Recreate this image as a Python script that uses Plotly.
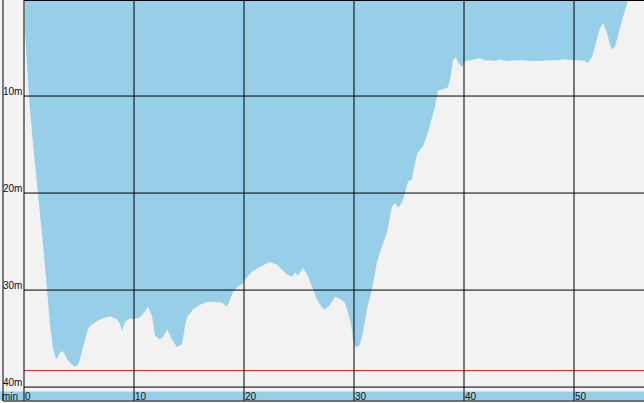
import plotly.graph_objects as go

# ---- data ----
time_min = [0.0, 0.09, 0.09, 0.45, 0.82, 1.27, 1.73, 2.09, 2.36, 2.64, 2.91, 3.09, 3.27, 3.55, 3.91,
            4.27, 4.64, 4.91, 5.09, 5.36, 5.55, 5.82, 6.0, 6.64, 7.18, 7.82, 8.45, 8.73, 8.91, 9.18,
            9.64, 9.91, 10.55, 11.0, 11.27, 11.64, 11.91, 12.36, 12.73, 13.0, 13.45, 13.91, 14.18,
            14.36, 14.64, 14.82, 15.36, 16.0, 16.64, 17.18, 18.0, 18.45, 18.73, 19.0, 19.45, 19.82,
            20.09, 20.73, 21.45, 22.36, 23.0, 23.45, 23.91, 24.36, 24.64, 24.91, 25.36, 25.82, 26.18,
            26.64, 27.09, 27.36, 27.82, 28.27, 28.73, 29.18, 29.45, 29.73, 29.91, 30.09, 30.27, 30.55,
            30.82, 31.18, 31.64, 32.09, 32.55, 33.0, 33.45, 33.73, 34.0, 34.36, 34.64, 34.91, 35.27,
            35.36, 35.73, 36.0, 36.27, 36.73, 37.09, 37.36, 37.64, 38.09, 38.55, 38.73, 38.91, 39.0,
            39.27, 39.45, 39.82, 40.09, 40.55, 41.0, 41.45, 41.91, 42.36, 42.82, 43.27, 43.91, 44.64,
            45.36, 46.0, 46.91, 47.64, 48.45, 49.18, 49.91, 50.55, 51.0, 51.27, 51.64, 52.09, 52.36,
            52.64, 53.0, 53.27, 53.45, 53.73, 54.18, 54.64, 54.91, 55.09]
depth_m = [0.0, 0.3, 3.2, 10.1, 15.0, 19.9, 25.3, 29.9, 33.5, 36.1, 37.1, 36.9, 36.4, 36.3, 37.1,
           37.6, 37.9, 37.7, 37.1, 35.9, 35.1, 34.0, 33.7, 33.2, 32.9, 32.7, 33.0, 33.5, 34.2, 33.3,
           32.9, 33.0, 32.8, 32.2, 31.7, 32.7, 34.7, 35.1, 34.7, 34.0, 35.1, 35.9, 35.7,
           35.6, 33.7, 32.8, 32.0, 31.5, 31.2, 31.2, 31.3, 31.7, 31.0, 30.2, 29.6, 29.4,
           28.9, 28.1, 27.6, 27.1, 27.4, 27.9, 28.4, 28.6, 28.2, 28.5, 27.7, 28.6, 29.7,
           31.0, 31.8, 32.0, 31.5, 30.7, 30.9, 31.3, 32.3, 33.5, 35.1, 35.8, 35.9, 35.6,
           34.3, 32.0, 29.9, 27.1, 25.5, 24.1, 21.4, 21.0, 21.5, 21.0, 20.0, 18.8, 18.6,
           17.9, 16.0, 15.5, 15.2, 13.7, 12.2, 11.1, 9.4, 9.3, 9.1, 8.3, 7.0, 6.3,
           6.0, 6.5, 7.0, 6.4, 6.3, 6.2, 6.1, 6.3, 6.3, 6.4, 6.2, 6.4, 6.3,
           6.3, 6.4, 6.4, 6.3, 6.3, 6.2, 6.3, 6.3, 6.4, 6.6, 6.0, 4.0, 3.0,
           2.5, 3.5, 4.7, 5.2, 4.9, 2.9, 1.1, 0.1, 0.0]

minute_ticks = [0, 10, 20, 30, 40, 50]
depth_ticks = [10, 20, 30, 40]
depth_tick_labels = ["10m", "20m", "30m", "40m"]
limit_depth = 38.3

# ---- styling / layout ----
W, H = 644, 403
ML, MB = 24, 13
PW, PH = W - ML, H - MB
X_MAX = PW / 11.0          # 11 px per minute
Y_TOP, Y_BOT = 0.1, 40.3

BG = "#f2f2f2"
BLUE = "#97cfe8"
FONT = "Liberation Sans, Arial, sans-serif"

def px_x(px):   # pixel x -> paper
    return (px - ML) / PW

def px_y(py):   # pixel y (from top) -> paper
    return 1 - py / PH

fig = go.Figure()
fig.add_trace(go.Scatter(x=time_min, y=depth_m, mode="lines", fill="tozeroy",
                         line=dict(width=0, color=BLUE), fillcolor=BLUE,
                         hoverinfo="skip", showlegend=False))

shapes = []
# bottom time strip
shapes.append(dict(type="rect", xref="paper", yref="paper", x0=px_x(0), x1=1,
                   y0=px_y(400.5), y1=px_y(391.5), fillcolor=BLUE, line=dict(width=0),
                   layer="below"))
# horizontal grid lines
for d in depth_ticks:
    shapes.append(dict(type="line", xref="paper", yref="y", x0=0, x1=1, y0=d, y1=d,
                       line=dict(color="#000000", width=1)))
# limit line
shapes.append(dict(type="line", xref="paper", yref="y", x0=0, x1=1, y0=limit_depth, y1=limit_depth,
                   line=dict(color="#cc2020", width=1)))
# vertical grid lines
for m in minute_ticks:
    xp = m / X_MAX
    shapes.append(dict(type="line", xref="paper", yref="paper", x0=xp, x1=xp,
                       y0=px_y(401), y1=1, line=dict(color="#000000", width=1)))
# frame
shapes.append(dict(type="line", xref="paper", yref="paper", x0=0, x1=1, y0=px_y(0.5), y1=px_y(0.5),
                   line=dict(color="#000000", width=1)))
shapes.append(dict(type="line", xref="paper", yref="paper", x0=px_x(3), x1=px_x(3), y0=px_y(401), y1=1,
                   line=dict(color="#000000", width=1)))
shapes.append(dict(type="line", xref="paper", yref="paper", x0=px_x(3), x1=1, y0=px_y(401), y1=px_y(401),
                   line=dict(color="#000000", width=1)))

annotations = []
for d, lab in zip(depth_ticks, depth_tick_labels):
    annotations.append(dict(text=lab, xref="paper", yref="y", x=0, y=d, xanchor="right",
                            yanchor="bottom", showarrow=False, xshift=0, yshift=-3,
                            font=dict(family=FONT, size=10, color="#111111")))
for m in minute_ticks:
    annotations.append(dict(text=str(m), xref="paper", yref="paper", x=m / X_MAX, y=px_y(396),
                            xanchor="left", yanchor="middle", showarrow=False, xshift=-1,
                            font=dict(family=FONT, size=10, color="#111111")))
annotations.append(dict(text="min", xref="paper", yref="paper", x=px_x(2), y=px_y(396),
                        xanchor="left", yanchor="middle", showarrow=False, xshift=-2,
                        font=dict(family=FONT, size=10, color="#111111")))

fig.update_layout(
    width=W, height=H,
    margin=dict(l=ML, r=0, t=0, b=MB, pad=0),
    paper_bgcolor=BG, plot_bgcolor=BG,
    xaxis=dict(range=[0, X_MAX], showgrid=False, zeroline=False, showticklabels=False,
               ticks="", showline=False, fixedrange=True),
    yaxis=dict(range=[Y_BOT, Y_TOP], showgrid=False, zeroline=False, showticklabels=False,
               ticks="", showline=False, fixedrange=True),
    shapes=shapes, annotations=annotations, showlegend=False,
)

fig.write_html("out.html", config={"displayModeBar": False},
               post_script="document.body.style.margin='0';document.body.style.padding='0';"
                           "document.body.style.overflow='hidden';"
                           "document.body.style.background='" + BG + "';")
